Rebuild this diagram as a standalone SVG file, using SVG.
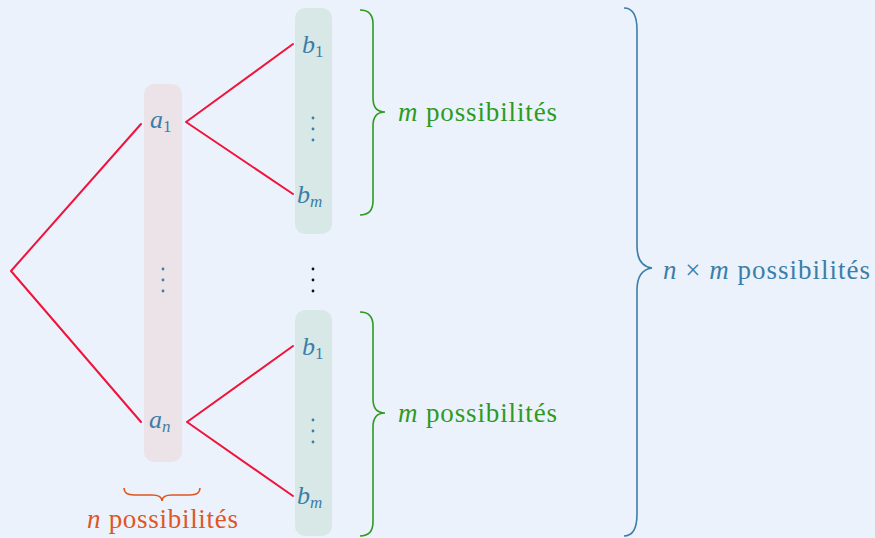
<svg xmlns="http://www.w3.org/2000/svg" width="875" height="538" viewBox="0 0 875 538">
<style>
.edge{stroke:#F0143C;stroke-width:2;fill:none;stroke-linecap:round;stroke-linejoin:round}
.brace{fill:none;stroke-width:1.6}
</style>
<rect width="875" height="538" fill="#EBF2FC"/>
<g id="col-a"><rect x="144" y="84" width="38" height="378" rx="10" fill="#EBE3E8"/></g>
<g id="col-b1"><rect x="295" y="8" width="37" height="226" rx="10" fill="#D8E8E6"/></g>
<g id="col-b2"><rect x="295" y="310" width="37" height="226" rx="10" fill="#D8E8E6"/></g>
<g id="connectors">
<path class="edge" d="M141,124 L11,271 L141,422"/>
<path class="edge" d="M293,44 L186,122 L293,194"/>
<path class="edge" d="M293,346 L187,422 L293,496"/>
</g>
<g id="node-a1"><text font-family="Liberation Serif" fill="#3B7EA8" font-size="26" x="150" y="128"><tspan font-style="italic">a</tspan><tspan font-size="17" dy="4">1</tspan></text></g>
<g id="node-an"><text font-family="Liberation Serif" fill="#3B7EA8" font-size="26" x="149" y="428"><tspan font-style="italic">a</tspan><tspan font-size="17" dy="4" font-style="italic">n</tspan></text></g>
<g id="node-b1-top"><text font-family="Liberation Serif" fill="#3B7EA8" font-size="26" x="302" y="53"><tspan font-style="italic">b</tspan><tspan font-size="17" dy="4">1</tspan></text></g>
<g id="node-bm-top"><text font-family="Liberation Serif" fill="#3B7EA8" font-size="26" x="297" y="203"><tspan font-style="italic">b</tspan><tspan font-size="17" dy="4" font-style="italic">m</tspan></text></g>
<g id="node-b1-bot"><text font-family="Liberation Serif" fill="#3B7EA8" font-size="26" x="302" y="355"><tspan font-style="italic">b</tspan><tspan font-size="17" dy="4">1</tspan></text></g>
<g id="node-bm-bot"><text font-family="Liberation Serif" fill="#3B7EA8" font-size="26" x="297" y="504"><tspan font-style="italic">b</tspan><tspan font-size="17" dy="4" font-style="italic">m</tspan></text></g>
<g id="brace-m-top">
<path class="brace" stroke="#2E9A1F" d="M360,10 Q373,10 373,24 L373,98 Q373,112 385,112 Q373,112 373,126 L373,201 Q373,215 360,215"/>
<text font-family="Liberation Serif" fill="#2E9A1F" font-size="27" x="398" y="121" textLength="159" lengthAdjust="spacing"><tspan font-style="italic">m</tspan> possibilités</text>
</g>
<g id="brace-m-bot">
<path class="brace" stroke="#2E9A1F" d="M360,312 Q373,312 373,326 L373,399 Q373,413 385,413 Q373,413 373,427 L373,522 Q373,536 360,536"/>
<text font-family="Liberation Serif" fill="#2E9A1F" font-size="27" x="398" y="422" textLength="159" lengthAdjust="spacing"><tspan font-style="italic">m</tspan> possibilités</text>
</g>
<g id="brace-nm">
<path class="brace" stroke="#3B7EA8" d="M624,8 Q637,8 637,30 L637,246 Q637,266 652,268 Q637,270 637,290 L637,514 Q637,536 624,536"/>
<text font-family="Liberation Serif" fill="#3B7EA8" font-size="27" x="663" y="279" textLength="207" lengthAdjust="spacing"><tspan font-style="italic">n</tspan> × <tspan font-style="italic">m</tspan> possibilités</text>
</g>
<g id="brace-n">
<path class="brace" stroke="#E0561E" d="M124,488 Q124,495 134,495 L152,495 Q162,495 162,501 Q162,495 172,495 L190,495 Q200,495 200,488"/>
<text font-family="Liberation Serif" fill="#E0561E" font-size="27" x="87" y="528" textLength="151" lengthAdjust="spacing"><tspan font-style="italic">n</tspan> possibilités</text>
</g>
<g id="node-adots" fill="#3B7EA8"><circle cx="163" cy="269" r="1.4"/><circle cx="163" cy="280" r="1.4"/><circle cx="163" cy="291" r="1.4"/></g>
<g id="node-bdots-top" fill="#3B7EA8"><circle cx="313" cy="118" r="1.4"/><circle cx="313" cy="129" r="1.4"/><circle cx="313" cy="140" r="1.4"/></g>
<g id="node-mid-dots" fill="#111"><circle cx="313" cy="269" r="1.4"/><circle cx="313" cy="280" r="1.4"/><circle cx="313" cy="291" r="1.4"/></g>
<g id="node-bdots-bot" fill="#3B7EA8"><circle cx="313" cy="420" r="1.4"/><circle cx="313" cy="431" r="1.4"/><circle cx="313" cy="442" r="1.4"/></g>
</svg>
